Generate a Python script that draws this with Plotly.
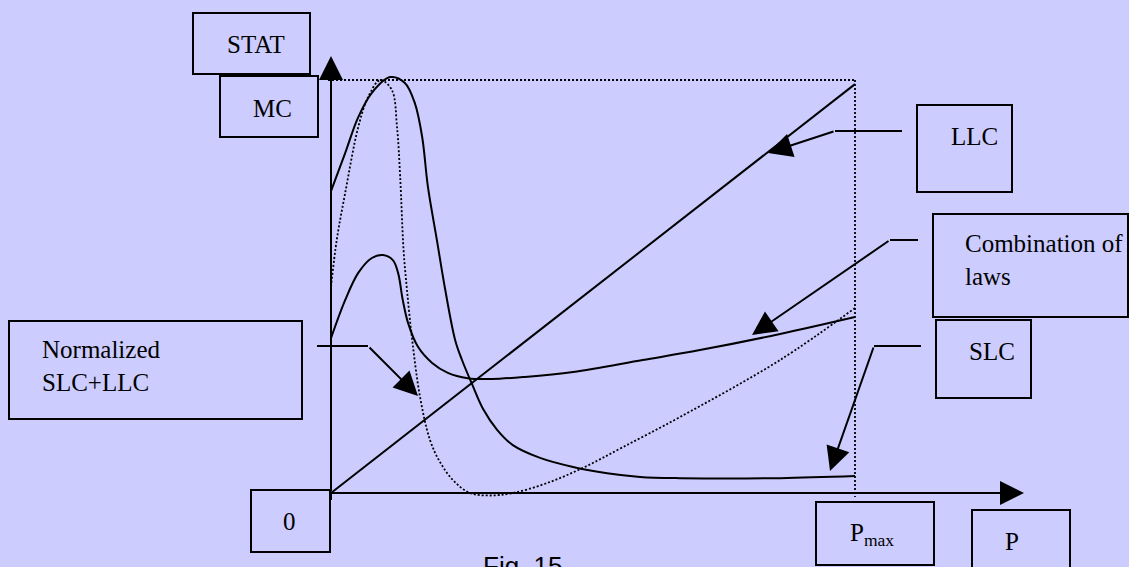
import plotly.graph_objects as go

# ---------------- data (P normalised: origin=0, Pmax=1; STAT normalised: top guide=1) ----------------
llc_p = [0.0, 1.0]
llc_v = [0.0, 0.99]

comb_p = [0.0, 0.027, 0.052, 0.078, 0.099, 0.118, 0.128, 0.137, 0.147, 0.166, 0.193, 0.223,
          0.261, 0.307, 0.370, 0.462, 0.595, 0.704, 0.857, 1.0]
comb_v = [0.375, 0.467, 0.533, 0.569, 0.576, 0.564, 0.533, 0.467, 0.412, 0.354, 0.315, 0.291,
          0.278, 0.276, 0.281, 0.293, 0.322, 0.346, 0.385, 0.426]

slc_p = [0.0, 0.027, 0.052, 0.078, 0.113, 0.141, 0.160, 0.174, 0.185, 0.202, 0.218, 0.237,
         0.250, 0.269, 0.290, 0.317, 0.347, 0.399, 0.462, 0.527, 0.590, 0.666, 0.857, 1.0]
slc_v = [0.731, 0.823, 0.910, 0.969, 1.007, 0.993, 0.944, 0.862, 0.741, 0.613, 0.492, 0.370,
         0.322, 0.264, 0.204, 0.153, 0.116, 0.085, 0.063, 0.048, 0.039, 0.036, 0.036, 0.041]

norm_p = [0.0, 0.011, 0.027, 0.052, 0.071, 0.094, 0.116, 0.126, 0.132, 0.1385, 0.145, 0.155,
          0.170, 0.189, 0.208, 0.233, 0.265, 0.303, 0.347, 0.412, 0.481, 0.557, 0.666, 0.857, 1.0]
norm_v = [0.499, 0.613, 0.726, 0.886, 0.959, 1.0, 0.976, 0.886, 0.765, 0.588, 0.492, 0.370,
          0.232, 0.128, 0.075, 0.031, 0.0, -0.006, 0.0, 0.024, 0.061, 0.111, 0.184, 0.322, 0.448]

# ---------------- layout helpers (pixel -> data) ----------------
W, H = 1129, 567
OX, OY, SX, SY = 331, 493, 524, 413


def X(px):
    return (px - OX) / SX


def Y(py):
    return (OY - py) / SY


BG = "#CCCCFF"
SERIF = "Liberation Serif, Times New Roman, serif"

fig = go.Figure()
solid = dict(color="black", width=2)
dotted = dict(color="black", width=1.8, dash="2px,2px")

fig.add_trace(go.Scatter(x=llc_p, y=llc_v, mode="lines", line=solid, hoverinfo="skip"))
fig.add_trace(go.Scatter(x=comb_p, y=comb_v, mode="lines", line=dict(solid, shape="spline", smoothing=1.0),
                         hoverinfo="skip"))
fig.add_trace(go.Scatter(x=slc_p, y=slc_v, mode="lines", line=dict(solid, shape="spline", smoothing=1.0),
                         hoverinfo="skip"))
fig.add_trace(go.Scatter(x=norm_p, y=norm_v, mode="lines", line=dict(dotted, shape="spline", smoothing=1.0),
                         hoverinfo="skip"))

shapes = []
# dotted guide box
shapes.append(dict(type="line", x0=X(328), y0=1, x1=1, y1=1, line=dotted))
shapes.append(dict(type="line", x0=1, y0=1, x1=1, y1=Y(497), line=dotted))
# small tick below origin
shapes.append(dict(type="line", x0=0, y0=0, x1=0, y1=Y(500), line=solid))

# label boxes (pixels)
boxes = [
    (193, 13, 310, 74),     # STAT
    (220, 76, 318, 137),    # MC
    (9, 321, 302, 419),     # Normalized
    (251, 490, 330, 552),   # 0
    (816, 502, 934, 565),   # Pmax
    (972, 510, 1070, 580),  # P
    (917, 105, 1012, 192),  # LLC
    (933, 214, 1128, 317),  # Combination
    (936, 320, 1031, 398),  # SLC
]
for x0, y0, x1, y1 in boxes:
    shapes.append(dict(type="rect", x0=X(x0), x1=X(x1), y0=Y(y1), y1=Y(y0),
                       line=dict(color="black", width=2), fillcolor="rgba(0,0,0,0)"))

# leader polylines (pixels), last segment drawn as arrow
leaders = [
    [(902, 131), (835, 131), (768, 153)],
    [(918, 240), (890, 240), (752, 335)],
    [(921, 346), (874, 346), (830, 471)],
    [(317, 346), (368, 346), (418, 396)],
]
annotations = []
for pts in leaders:
    (ax0, ay0), (ax1, ay1), (tx, ty) = pts
    shapes.append(dict(type="line", x0=X(ax0), y0=Y(ay0), x1=X(ax1), y1=Y(ay1), line=solid))
    annotations.append(dict(x=X(tx), y=Y(ty), ax=X(ax1), ay=Y(ay1), xref="x", yref="y",
                            axref="x", ayref="y", text="", showarrow=True, arrowhead=2,
                            arrowsize=2.4, arrowwidth=2, arrowcolor="black"))

# axes arrows
annotations.append(dict(x=0, y=Y(56), ax=0, ay=0, xref="x", yref="y", axref="x", ayref="y",
                        text="", showarrow=True, arrowhead=2, arrowsize=2.4, arrowwidth=2,
                        arrowcolor="black"))
annotations.append(dict(x=X(1024), y=0, ax=X(328), ay=0, xref="x", yref="y", axref="x", ayref="y",
                        text="", showarrow=True, arrowhead=2, arrowsize=2.4, arrowwidth=2,
                        arrowcolor="black"))

# texts (pixel anchor positions)
texts = [
    ("STAT", 225, 44, "left"),
    ("MC", 251, 108, "left"),
    ("Normalized<br>SLC+LLC", 40, 366, "left"),
    ("0", 281, 521, "left"),
    ("P<sub>max</sub>", 848, 534, "left"),
    ("P", 1003, 541, "left"),
    ("LLC", 949, 136, "left"),
    ("Combination of<br>laws", 963, 260, "left"),
    ("SLC", 967, 351, "left"),
]
for t, px, py, al in texts:
    annotations.append(dict(x=X(px), y=Y(py), xref="x", yref="y", text=t, showarrow=False,
                            xanchor="left", yanchor="middle", align=al,
                            font=dict(family=SERIF, size=25, color="black")))

annotations.append(dict(x=X(523), y=Y(549), xref="x", yref="y", text="Fig. 15", showarrow=False,
                        xanchor="center", yanchor="top",
                        font=dict(family="Liberation Sans, Arial, sans-serif", size=26, color="black")))

fig.update_layout(
    width=W, height=H,
    margin=dict(l=0, r=0, t=0, b=0),
    paper_bgcolor=BG, plot_bgcolor=BG,
    showlegend=False,
    xaxis=dict(range=[X(0), X(W)], visible=False, fixedrange=True),
    yaxis=dict(range=[Y(H), Y(0)], visible=False, fixedrange=True),
    shapes=shapes,
    annotations=annotations,
)

fig.write_html("out.html", config={"displayModeBar": False},
               post_script="document.body.style.margin='0';document.body.style.overflow='hidden';")
